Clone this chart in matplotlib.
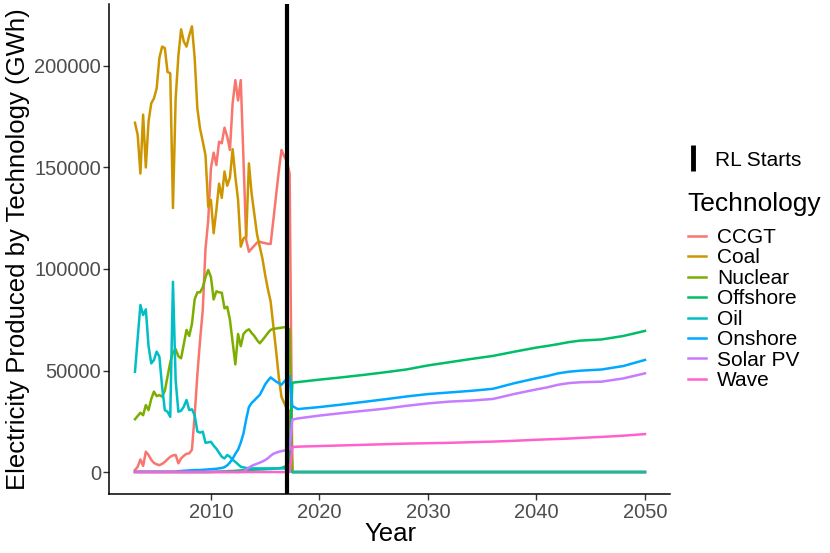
import matplotlib
matplotlib.use('Agg')
import matplotlib.pyplot as plt
from matplotlib.lines import Line2D
from matplotlib.ticker import FuncFormatter
import numpy as np

plt.rcParams['font.family'] = ['Liberation Sans', 'DejaVu Sans']

# ---------------- data (values in thousand GWh) ----------------
technologies = ['CCGT', 'Coal', 'Nuclear', 'Offshore', 'Oil', 'Onshore', 'Solar PV', 'Wave']
colors = ['#F8766D', '#CD9600', '#7CAE00', '#00BE67', '#00BFC4', '#00A9FF', '#C77CFF', '#FF61CC']

# historical period: quarterly points starting 2003.0
hist_years = [2003.0, 2003.25, 2003.5, 2003.75, 2004.0, 2004.25, 2004.5, 2004.75,
              2005.0, 2005.25, 2005.5, 2005.75, 2006.0, 2006.25, 2006.5, 2006.75,
              2007.0, 2007.25, 2007.5, 2007.75, 2008.0, 2008.25, 2008.5, 2008.75,
              2009.0, 2009.25, 2009.5, 2009.75, 2010.0, 2010.25, 2010.5, 2010.75,
              2011.0, 2011.25, 2011.5, 2011.75, 2012.0, 2012.25, 2012.5, 2012.75,
              2013.0, 2013.25, 2013.5, 2013.75, 2014.0, 2014.25, 2014.5, 2014.75,
              2015.0, 2015.25, 2015.5, 2015.75, 2016.0, 2016.25, 2016.5, 2016.75,
              2017.0, 2017.25]

ccgt_hist = [1, 2.6, 6.2, 3, 10, 8.4, 6, 4.5, 3.8, 3.4, 4, 5, 6.3, 7.5, 8.2,
             8.4, 4.3, 6.7, 8, 9, 9.2, 11, 28, 48, 65, 80, 110, 124, 149.6, 157.3,
             151.2, 162.7, 161.9, 169.6, 165.2, 158.6, 181.6, 193, 183, 193,
             153.7, 114.3, 108.5, 110, 111.5, 113, 113.4, 113, 112.7, 112.4,
             112.3, 124, 136, 148, 158.6, 155.5, 153, 147]
coal_hist = [172, 166, 147, 176, 150, 172.6, 181.6, 184, 189, 204, 209.5, 208.8,
             197, 196.4, 130, 184, 205, 218, 212, 209.5, 215, 219.5, 204, 179, 169,
             162.7, 156, 130.7, 134, 117.6, 129, 142, 135, 148, 141, 145, 159,
             145.5, 134, 111, 115, 116, 152, 137, 127, 117, 111, 105, 97, 90, 84,
             72, 60, 47, 37, 34, 31, 30]
nuclear_hist = [26, 27.6, 29.2, 28, 33, 30.5, 36, 39.6, 37.4, 37.9, 37.1, 40, 47,
                54, 59, 60.5, 57, 56, 63, 70, 67, 73, 85, 88.5, 88.5, 91, 96, 99.5,
                96, 85, 89, 88.5, 88.3, 80.6, 81.4, 75, 64, 53, 68, 62, 68, 69.5,
                70.3, 68.5, 67, 65, 63.4, 65, 66.7, 68.5, 70, 70.5, 70.7, 70.9,
                71.1, 71.3, 71, 70.3]
offshore_hist = [0, 0, 0, 0, 0, 0, 0, 0, 0, 0, 0, 0, 0, 0, 0, 0, 0, 0, 0, 0, 0, 0,
                 0, 0, 0, 0, 0, 0, 0.1, 0.1, 0.2, 0.2, 0.3, 0.3, 0.4, 0.5, 0.5, 0.6,
                 0.7, 0.8, 0.9, 1.0, 1.0, 1.1, 1.2, 1.2, 1.3, 1.3, 1.4, 1.5, 1.5,
                 1.6, 1.7, 1.8, 2.0, 2.5, 3.2, 4.3]
oil_hist = [49.4, 66, 82.3, 77.3, 80.1, 62, 53.5, 55.2, 59.3, 56.8, 42, 30.5, 29.7,
            27.2, 93.7, 45, 29.7, 30.2, 32.2, 35.5, 30.5, 30.9, 28, 20, 19.4, 19.9,
            14.4, 14.6, 14.9, 13, 11.5, 9.5, 7.5, 6.7, 8.4, 7.5, 6, 5, 3.8, 2.6,
            2.3, 2, 1.8, 1.8, 1.8, 1.8, 1.8, 1.8, 1.8, 1.8, 1.8, 1.8, 1.8, 1.8,
            1.8, 1.8, 1.2, 1.0]
onshore_hist = [0.2, 0.2, 0.2, 0.2, 0.2, 0.2, 0.2, 0.2, 0.2, 0.2, 0.2, 0.2, 0.2,
                0.2, 0.2, 0.2, 0.4, 0.5, 0.6, 0.7, 0.8, 0.9, 1.0, 1.0, 1.0, 1.1,
                1.2, 1.3, 1.4, 1.5, 1.6, 1.8, 2.0, 2.4, 3.3, 4.7, 6.5, 9, 11, 14.5,
                19, 26, 32, 34, 35.3, 36.7, 38, 40.5, 43.2, 45, 46.6, 45.6, 44.6,
                43.8, 43, 44.5, 46, 47.3]
solar_hist = [0, 0, 0, 0, 0, 0, 0, 0, 0, 0, 0, 0, 0, 0, 0, 0, 0, 0, 0, 0, 0, 0, 0,
              0, 0, 0, 0, 0, 0, 0, 0, 0, 0, 0, 0, 0, 0, 0, 0, 0, 0.2, 1.2, 2.2, 3.0,
              3.6, 4.1, 4.6, 5.2, 5.9, 6.8, 8.0, 9.0, 9.5, 10.0, 10.3, 10.6, 10.9,
              11.2]
wave_hist = [0, 0, 0, 0, 0, 0, 0, 0, 0, 0, 0, 0, 0, 0, 0, 0, 0, 0, 0, 0, 0, 0, 0,
             0, 0, 0, 0, 0, 0, 0, 0, 0, 0, 0, 0, 0, 0, 0, 0, 0, 0, 0, 0, 0, 0, 0,
             0, 0, 0, 0, 0, 0, 0, 0, 0, 0, 0, 0]

# simulated period (after RL starts)
proj_years = [2017.5, 2018, 2020, 2022, 2024, 2026, 2028, 2030, 2032, 2034, 2036,
              2038, 2040, 2041, 2042, 2043, 2044, 2046, 2048, 2050]
zero_proj = [0, 0, 0, 0, 0, 0, 0, 0, 0, 0, 0, 0, 0, 0, 0, 0, 0, 0, 0, 0]
offshore_proj = [44.0, 44.3, 45.5, 46.6, 47.8, 49.1, 50.5, 52.5, 54.1, 55.7, 57.2,
                 59.3, 61.3, 62.1, 63.0, 64.0, 64.7, 65.3, 67.0, 69.5]
onshore_proj = [32.5, 31.0, 32.0, 33.2, 34.5, 35.8, 37.2, 38.4, 39.2, 40.0, 41.0,
                43.8, 46.2, 47.3, 48.6, 49.4, 49.9, 50.5, 52.2, 55.2]
solar_proj = [25.8, 26.4, 27.8, 29.0, 30.1, 31.2, 32.6, 33.8, 34.7, 35.2, 36.0,
              38.5, 40.7, 41.7, 43.0, 43.8, 44.2, 44.5, 46.1, 48.6]
wave_proj = [12.3, 12.5, 12.8, 13.1, 13.4, 13.7, 14.0, 14.2, 14.4, 14.7, 15.0,
             15.4, 15.9, 16.1, 16.3, 16.5, 16.8, 17.3, 17.9, 18.7]

rl_start_year = 2017
x_ticks = [2010, 2020, 2030, 2040, 2050]
y_ticks = [0, 50000, 100000, 150000, 200000]
unit = 1000  # thousands -> GWh

hist_series = [ccgt_hist, coal_hist, nuclear_hist, offshore_hist, oil_hist,
               onshore_hist, solar_hist, wave_hist]
proj_series = [zero_proj, zero_proj, zero_proj, offshore_proj, zero_proj,
               onshore_proj, solar_proj, wave_proj]

# ---------------- plotting ----------------
fig = plt.figure(figsize=(8.3, 5.53), dpi=100)
ax = fig.add_axes([0.1319, 0.1061, 0.6759, 0.8866])

lw = 1.8
for name, col, h, p in zip(technologies, colors, hist_series, proj_series):
    xs = np.array(hist_years + proj_years)
    ys = np.array(h + p) * unit
    ax.plot(xs, ys, color=col, lw=lw, label=name, solid_joinstyle='round')

ax.axvline(rl_start_year, color='black', lw=3)
ax.margins(x=0.05, y=0.05)

ax.set_xticks(x_ticks)
ax.set_yticks(y_ticks)
ax.yaxis.set_major_formatter(FuncFormatter(lambda v, p: f'{int(v)}'))
ax.tick_params(axis='both', labelsize=14.5, labelcolor='#4D4D4D', color='#333333',
               length=4, width=1, pad=2)
for s in ['top', 'right']:
    ax.spines[s].set_visible(False)
for s in ['left', 'bottom']:
    ax.spines[s].set_linewidth(1.1)
    ax.spines[s].set_color('black')

ax.set_xlabel('Year', fontsize=18.5, labelpad=0)
ax.set_ylabel('Electricity Produced by Technology (GWh)', fontsize=18.5, labelpad=3)

rl_handle = Line2D([], [], color='black', marker='|', linestyle='None',
                   markersize=19, markeredgewidth=3.5)
fig.legend(handles=[rl_handle], labels=['RL Starts'], loc='center left',
           bbox_to_anchor=(683 / 830, 1 - 160 / 553), frameon=False,
           fontsize=15, handlelength=1.0, handletextpad=0.55,
           borderpad=0, borderaxespad=0)

fig.text(687 / 830, 1 - 204 / 553, 'Technology', fontsize=19, ha='left', va='center')

leg_handles = [Line2D([], [], color=c, lw=lw) for c in colors]
fig.legend(handles=leg_handles, labels=technologies,
           loc='upper left', bbox_to_anchor=(688 / 830, 1 - 228 / 553),
           frameon=False, fontsize=15, handlelength=0.85, handletextpad=0.55,
           labelspacing=0.07, borderpad=0, borderaxespad=0)

fig.savefig('out.png', dpi=100)
